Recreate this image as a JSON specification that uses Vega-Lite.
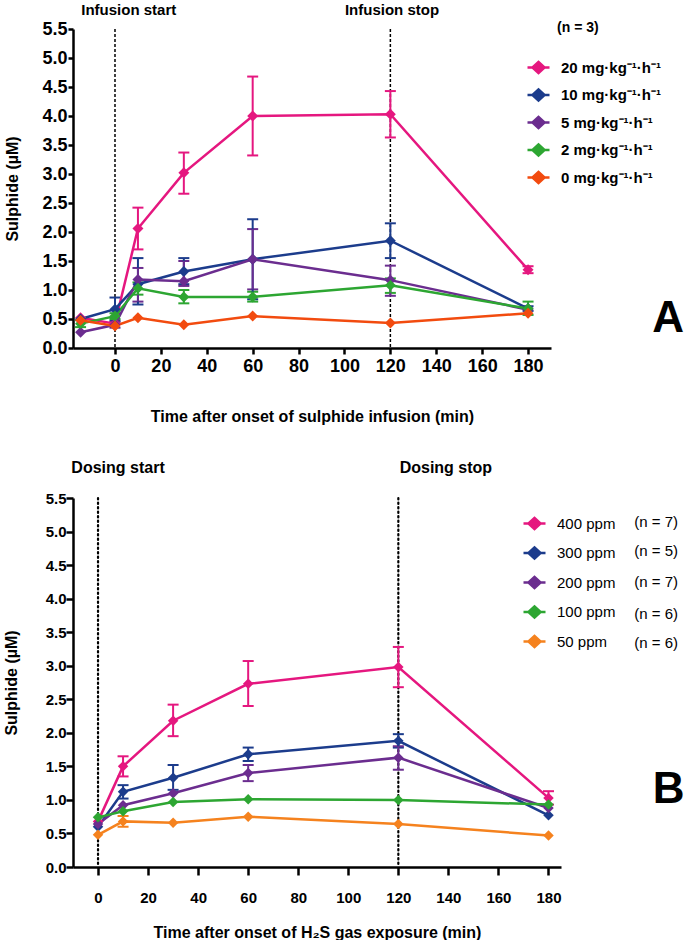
{
  "$schema": "https://vega.github.io/schema/vega-lite/v6.json",
  "padding": {"left": 3, "top": 2, "right": 0, "bottom": 0},
  "spacing": 35,
  "resolve": {"scale": {"color": "independent", "x": "independent", "y": "independent"}, "legend": {"color": "independent"}},
  "config": {
    "font": "Liberation Sans",
    "view": {"stroke": null},
    "axis": {"grid": false, "labelOverlap": false, "domainColor": "black", "tickColor": "black", "labelColor": "black", "titleColor": "black", "labelFont": "Liberation Sans", "titleFont": "Liberation Sans"},
    "legend": {"labelFont": "Liberation Sans", "titleFont": "Liberation Sans", "labelColor": "black", "titleColor": "black", "symbolOpacity": 1}
  },
  "datasets": {
    "a": [
      {"s": "20 mg·kg⁻¹·h⁻¹", "t": -15, "m": 0.52, "lo": null, "hi": null},
      {"s": "20 mg·kg⁻¹·h⁻¹", "t": 0, "m": 0.42, "lo": null, "hi": null},
      {"s": "20 mg·kg⁻¹·h⁻¹", "t": 10, "m": 2.06, "lo": 1.70, "hi": 2.42},
      {"s": "20 mg·kg⁻¹·h⁻¹", "t": 30, "m": 3.02, "lo": 2.66, "hi": 3.37},
      {"s": "20 mg·kg⁻¹·h⁻¹", "t": 60, "m": 4.00, "lo": 3.32, "hi": 4.68},
      {"s": "20 mg·kg⁻¹·h⁻¹", "t": 120, "m": 4.03, "lo": 3.63, "hi": 4.43},
      {"s": "20 mg·kg⁻¹·h⁻¹", "t": 180, "m": 1.35, "lo": 1.29, "hi": 1.41},
      {"s": "10 mg·kg⁻¹·h⁻¹", "t": -15, "m": 0.50, "lo": null, "hi": null},
      {"s": "10 mg·kg⁻¹·h⁻¹", "t": 0, "m": 0.67, "lo": 0.47, "hi": 0.87},
      {"s": "10 mg·kg⁻¹·h⁻¹", "t": 10, "m": 1.10, "lo": 0.75, "hi": 1.55},
      {"s": "10 mg·kg⁻¹·h⁻¹", "t": 30, "m": 1.32, "lo": 1.10, "hi": 1.55},
      {"s": "10 mg·kg⁻¹·h⁻¹", "t": 60, "m": 1.53, "lo": 0.84, "hi": 2.22},
      {"s": "10 mg·kg⁻¹·h⁻¹", "t": 120, "m": 1.85, "lo": 1.55, "hi": 2.15},
      {"s": "10 mg·kg⁻¹·h⁻¹", "t": 180, "m": 0.68, "lo": 0.64, "hi": 0.72},
      {"s": "5 mg·kg⁻¹·h⁻¹", "t": -15, "m": 0.27, "lo": null, "hi": null},
      {"s": "5 mg·kg⁻¹·h⁻¹", "t": 0, "m": 0.40, "lo": 0.35, "hi": 0.45},
      {"s": "5 mg·kg⁻¹·h⁻¹", "t": 10, "m": 1.18, "lo": 0.80, "hi": 1.38},
      {"s": "5 mg·kg⁻¹·h⁻¹", "t": 30, "m": 1.15, "lo": 1.07, "hi": 1.50},
      {"s": "5 mg·kg⁻¹·h⁻¹", "t": 60, "m": 1.53, "lo": 1.01, "hi": 2.05},
      {"s": "5 mg·kg⁻¹·h⁻¹", "t": 120, "m": 1.17, "lo": 0.90, "hi": 1.42},
      {"s": "5 mg·kg⁻¹·h⁻¹", "t": 180, "m": 0.66, "lo": null, "hi": null},
      {"s": "2 mg·kg⁻¹·h⁻¹", "t": -15, "m": 0.42, "lo": 0.36, "hi": 0.48},
      {"s": "2 mg·kg⁻¹·h⁻¹", "t": 0, "m": 0.55, "lo": 0.50, "hi": 0.60},
      {"s": "2 mg·kg⁻¹·h⁻¹", "t": 10, "m": 1.03, "lo": 0.92, "hi": 1.13},
      {"s": "2 mg·kg⁻¹·h⁻¹", "t": 30, "m": 0.88, "lo": 0.77, "hi": 1.00},
      {"s": "2 mg·kg⁻¹·h⁻¹", "t": 60, "m": 0.88, "lo": 0.80, "hi": 0.97},
      {"s": "2 mg·kg⁻¹·h⁻¹", "t": 120, "m": 1.08, "lo": 0.95, "hi": 1.20},
      {"s": "2 mg·kg⁻¹·h⁻¹", "t": 180, "m": 0.68, "lo": 0.57, "hi": 0.80},
      {"s": "0 mg·kg⁻¹·h⁻¹", "t": -15, "m": 0.48, "lo": null, "hi": null},
      {"s": "0 mg·kg⁻¹·h⁻¹", "t": 0, "m": 0.38, "lo": null, "hi": null},
      {"s": "0 mg·kg⁻¹·h⁻¹", "t": 10, "m": 0.52, "lo": null, "hi": null},
      {"s": "0 mg·kg⁻¹·h⁻¹", "t": 30, "m": 0.40, "lo": null, "hi": null},
      {"s": "0 mg·kg⁻¹·h⁻¹", "t": 60, "m": 0.55, "lo": null, "hi": null},
      {"s": "0 mg·kg⁻¹·h⁻¹", "t": 120, "m": 0.43, "lo": null, "hi": null},
      {"s": "0 mg·kg⁻¹·h⁻¹", "t": 180, "m": 0.60, "lo": null, "hi": null}
    ],
    "b": [
      {"s": "400 ppm", "t": 0, "m": 0.68, "lo": null, "hi": null},
      {"s": "400 ppm", "t": 10, "m": 1.50, "lo": 1.35, "hi": 1.65},
      {"s": "400 ppm", "t": 30, "m": 2.18, "lo": 1.95, "hi": 2.42},
      {"s": "400 ppm", "t": 60, "m": 2.73, "lo": 2.40, "hi": 3.07},
      {"s": "400 ppm", "t": 120, "m": 2.98, "lo": 2.68, "hi": 3.28},
      {"s": "400 ppm", "t": 180, "m": 1.03, "lo": 0.93, "hi": 1.13},
      {"s": "300 ppm", "t": 0, "m": 0.60, "lo": null, "hi": null},
      {"s": "300 ppm", "t": 10, "m": 1.12, "lo": 1.02, "hi": 1.22},
      {"s": "300 ppm", "t": 30, "m": 1.33, "lo": 1.15, "hi": 1.52},
      {"s": "300 ppm", "t": 60, "m": 1.68, "lo": 1.58, "hi": 1.78},
      {"s": "300 ppm", "t": 120, "m": 1.88, "lo": 1.78, "hi": 1.98},
      {"s": "300 ppm", "t": 180, "m": 0.77, "lo": null, "hi": null},
      {"s": "200 ppm", "t": 0, "m": 0.64, "lo": null, "hi": null},
      {"s": "200 ppm", "t": 10, "m": 0.92, "lo": null, "hi": null},
      {"s": "200 ppm", "t": 30, "m": 1.10, "lo": null, "hi": null},
      {"s": "200 ppm", "t": 60, "m": 1.40, "lo": 1.28, "hi": 1.52},
      {"s": "200 ppm", "t": 120, "m": 1.63, "lo": 1.45, "hi": 1.80},
      {"s": "200 ppm", "t": 180, "m": 0.88, "lo": null, "hi": null},
      {"s": "100 ppm", "t": 0, "m": 0.74, "lo": null, "hi": null},
      {"s": "100 ppm", "t": 10, "m": 0.83, "lo": null, "hi": null},
      {"s": "100 ppm", "t": 30, "m": 0.97, "lo": null, "hi": null},
      {"s": "100 ppm", "t": 60, "m": 1.01, "lo": null, "hi": null},
      {"s": "100 ppm", "t": 120, "m": 1.00, "lo": null, "hi": null},
      {"s": "100 ppm", "t": 180, "m": 0.93, "lo": null, "hi": null},
      {"s": "50 ppm", "t": 0, "m": 0.48, "lo": null, "hi": null},
      {"s": "50 ppm", "t": 10, "m": 0.68, "lo": 0.60, "hi": 0.76},
      {"s": "50 ppm", "t": 30, "m": 0.66, "lo": null, "hi": null},
      {"s": "50 ppm", "t": 60, "m": 0.75, "lo": null, "hi": null},
      {"s": "50 ppm", "t": 120, "m": 0.64, "lo": null, "hi": null},
      {"s": "50 ppm", "t": 180, "m": 0.47, "lo": null, "hi": null}
    ]
  },
  "vconcat": [
    {
      "width": 478,
      "height": 319,
      "data": {"name": "a"},
      "encoding": {
        "x": {"field": "t", "type": "quantitative", "scale": {"domain": [-18.3, 190], "nice": false},
          "axis": {"values": [0, 20, 40, 60, 80, 100, 120, 140, 160, 180], "title": "Time after onset of sulphide infusion (min)", "domainWidth": 2.5, "tickWidth": 2.5, "tickSize": 6, "labelFontSize": 18, "labelFontWeight": "bold", "labelPadding": 3, "titleFontSize": 16, "titleFontWeight": "bold", "titlePadding": 33}}
      },
      "layer": [
        {
          "data": {"values": [{"t": 0}, {"t": 120}]},
          "mark": {"type": "rule", "strokeDash": [3, 2], "strokeWidth": 1.5, "color": "black"},
          "encoding": {}
        },
        {
          "transform": [{"filter": "datum.lo != null"}],
          "mark": {"type": "errorbar", "ticks": {"size": 11, "opacity": 1}, "rule": {"opacity": 1}, "thickness": 2},
          "encoding": {
            "y": {"field": "lo", "type": "quantitative", "title": "Sulphide (µM)", "scale": {"domain": [0, 5.5], "nice": false}},
            "y2": {"field": "hi"},
            "color": {"field": "s", "type": "nominal",
              "scale": {"domain": ["20 mg·kg⁻¹·h⁻¹", "10 mg·kg⁻¹·h⁻¹", "5 mg·kg⁻¹·h⁻¹", "2 mg·kg⁻¹·h⁻¹", "0 mg·kg⁻¹·h⁻¹"], "range": ["#E5177F", "#1C3C8C", "#6B2D8F", "#2DA632", "#F24B0F"]},
              "legend": {"orient": "none", "legendX": 453, "legendY": 26, "padding": 0, "title": null, "symbolType": "M-1,0L1,0M0,-0.5L0.55,0L0,0.5L-0.55,0Z", "symbolSize": 484, "symbolStrokeWidth": 2.5, "labelFontSize": 15, "labelFontWeight": "bold", "labelOffset": 10, "rowPadding": 4.5, "labelLimit": 300,
                "encode": {"symbols": {"update": {"fill": {"signal": "['#E5177F','#1C3C8C','#6B2D8F','#2DA632','#F24B0F'][datum.index]"}, "stroke": {"signal": "['#E5177F','#1C3C8C','#6B2D8F','#2DA632','#F24B0F'][datum.index]"}, "opacity": {"value": 1}}}}}}
          }
        },
        {
          "mark": {"type": "line", "strokeWidth": 2.5},
          "encoding": {
            "y": {"field": "m", "type": "quantitative", "title": "Sulphide (µM)", "scale": {"domain": [0, 5.5], "nice": false},
              "axis": {"values": [0, 0.5, 1, 1.5, 2, 2.5, 3, 3.5, 4, 4.5, 5, 5.5], "tickCount": 12, "labelOverlap": false, "format": ".1f", "title": "Sulphide (µM)", "domainWidth": 2.5, "tickWidth": 2.5, "tickSize": 5, "labelFontSize": 18, "labelFontWeight": "bold", "labelPadding": 1, "titleFontSize": 16, "titleFontWeight": "bold", "titlePadding": 21}},
            "color": {"field": "s", "type": "nominal",
              "legend": {"orient": "none", "legendX": 453, "legendY": 26, "padding": 0, "title": null, "symbolType": "M-1,0L1,0M0,-0.5L0.55,0L0,0.5L-0.55,0Z", "symbolSize": 484, "symbolStrokeWidth": 2.5, "labelFontSize": 15, "labelFontWeight": "bold", "labelOffset": 10, "rowPadding": 4.5, "labelLimit": 300,
                "encode": {"symbols": {"update": {"fill": {"signal": "['#E5177F','#1C3C8C','#6B2D8F','#2DA632','#F24B0F'][datum.index]"}, "stroke": {"signal": "['#E5177F','#1C3C8C','#6B2D8F','#2DA632','#F24B0F'][datum.index]"}, "opacity": {"value": 1}}}}}}
          }
        },
        {
          "mark": {"type": "point", "shape": "diamond", "filled": true, "size": 120, "opacity": 1},
          "encoding": {
            "y": {"field": "m", "type": "quantitative", "title": "Sulphide (µM)"},
            "color": {"field": "s", "type": "nominal",
              "legend": {"orient": "none", "legendX": 453, "legendY": 26, "padding": 0, "title": null, "symbolType": "M-1,0L1,0M0,-0.5L0.55,0L0,0.5L-0.55,0Z", "symbolSize": 484, "symbolStrokeWidth": 2.5, "labelFontSize": 15, "labelFontWeight": "bold", "labelOffset": 10, "rowPadding": 4.5, "labelLimit": 300,
                "encode": {"symbols": {"update": {"fill": {"signal": "['#E5177F','#1C3C8C','#6B2D8F','#2DA632','#F24B0F'][datum.index]"}, "stroke": {"signal": "['#E5177F','#1C3C8C','#6B2D8F','#2DA632','#F24B0F'][datum.index]"}, "opacity": {"value": 1}}}}}}
          }
        },
        {
          "data": {"values": [{"label": "Infusion start", "t": 6, "y": 5.83}, {"label": "Infusion stop", "t": 120.7, "y": 5.83}]},
          "mark": {"type": "text", "fontSize": 15, "fontWeight": "bold", "baseline": "middle", "align": "center", "color": "black"},
          "encoding": {
            "y": {"field": "y", "type": "quantitative", "title": "Sulphide (µM)"},
            "text": {"field": "label"}
          }
        },
        {
          "data": {"values": [{"label": "(n = 3)", "t": 201.7, "y": 5.52}]},
          "mark": {"type": "text", "fontSize": 14, "fontWeight": "bold", "baseline": "middle", "align": "center", "color": "black"},
          "encoding": {
            "y": {"field": "y", "type": "quantitative", "title": "Sulphide (µM)"},
            "text": {"field": "label"}
          }
        },
        {
          "data": {"values": [{"label": "A", "t": 241, "y": 0.28}]},
          "mark": {"type": "text", "fontSize": 44, "fontWeight": "bold", "baseline": "alphabetic", "align": "center", "color": "black"},
          "encoding": {
            "y": {"field": "y", "type": "quantitative", "title": "Sulphide (µM)"},
            "text": {"field": "label"}
          }
        }
      ]
    },
    {
      "width": 488,
      "height": 369,
      "data": {"name": "b"},
      "encoding": {
        "x": {"field": "t", "type": "quantitative", "scale": {"domain": [-10, 185], "nice": false},
          "axis": {"values": [0, 20, 40, 60, 80, 100, 120, 140, 160, 180], "title": "Time after onset of H₂S gas exposure (min)", "domainWidth": 2.5, "tickWidth": 2.5, "tickSize": 8, "labelFontSize": 15, "labelFontWeight": "bold", "labelPadding": 15, "titleFontSize": 16, "titleFontWeight": "bold", "titlePadding": 19}}
      },
      "layer": [
        {
          "data": {"values": [{"t": 0}, {"t": 120}]},
          "mark": {"type": "rule", "strokeDash": [1.5, 3], "strokeWidth": 2.2, "strokeCap": "round", "color": "black"},
          "encoding": {}
        },
        {
          "transform": [{"filter": "datum.lo != null"}],
          "mark": {"type": "errorbar", "ticks": {"size": 11, "opacity": 1}, "rule": {"opacity": 1}, "thickness": 2},
          "encoding": {
            "y": {"field": "lo", "type": "quantitative", "title": "Sulphide (µM)", "scale": {"domain": [0, 5.5], "nice": false}},
            "y2": {"field": "hi"},
            "color": {"field": "s", "type": "nominal",
              "scale": {"domain": ["400 ppm", "300 ppm", "200 ppm", "100 ppm", "50 ppm"], "range": ["#E5177F", "#1C3C8C", "#6B2D8F", "#2DA632", "#F5821E"]},
              "legend": {"orient": "none", "legendX": 449, "legendY": 13, "padding": 0, "title": null, "symbolType": "M-1,0L1,0M0,-0.5L0.55,0L0,0.5L-0.55,0Z", "symbolSize": 484, "symbolStrokeWidth": 2.5, "labelFontSize": 15, "labelOffset": 10, "rowPadding": 6.5, "labelLimit": 300,
                "encode": {"symbols": {"update": {"fill": {"signal": "['#E5177F','#1C3C8C','#6B2D8F','#2DA632','#F5821E'][datum.index]"}, "stroke": {"signal": "['#E5177F','#1C3C8C','#6B2D8F','#2DA632','#F5821E'][datum.index]"}, "opacity": {"value": 1}}}}}}
          }
        },
        {
          "mark": {"type": "line", "strokeWidth": 2.5},
          "encoding": {
            "y": {"field": "m", "type": "quantitative", "title": "Sulphide (µM)", "scale": {"domain": [0, 5.5], "nice": false},
              "axis": {"values": [0, 0.5, 1, 1.5, 2, 2.5, 3, 3.5, 4, 4.5, 5, 5.5], "tickCount": 12, "labelOverlap": false, "format": ".1f", "title": "Sulphide (µM)", "domainWidth": 2.5, "tickWidth": 2.5, "tickSize": 7, "labelFontSize": 15, "labelFontWeight": "bold", "labelPadding": 0, "titleFontSize": 16, "titleFontWeight": "bold", "titlePadding": 26}},
            "color": {"field": "s", "type": "nominal",
              "legend": {"orient": "none", "legendX": 449, "legendY": 13, "padding": 0, "title": null, "symbolType": "M-1,0L1,0M0,-0.5L0.55,0L0,0.5L-0.55,0Z", "symbolSize": 484, "symbolStrokeWidth": 2.5, "labelFontSize": 15, "labelOffset": 10, "rowPadding": 6.5, "labelLimit": 300,
                "encode": {"symbols": {"update": {"fill": {"signal": "['#E5177F','#1C3C8C','#6B2D8F','#2DA632','#F5821E'][datum.index]"}, "stroke": {"signal": "['#E5177F','#1C3C8C','#6B2D8F','#2DA632','#F5821E'][datum.index]"}, "opacity": {"value": 1}}}}}}
          }
        },
        {
          "mark": {"type": "point", "shape": "diamond", "filled": true, "size": 110, "opacity": 1},
          "encoding": {
            "y": {"field": "m", "type": "quantitative", "title": "Sulphide (µM)"},
            "color": {"field": "s", "type": "nominal",
              "legend": {"orient": "none", "legendX": 449, "legendY": 13, "padding": 0, "title": null, "symbolType": "M-1,0L1,0M0,-0.5L0.55,0L0,0.5L-0.55,0Z", "symbolSize": 484, "symbolStrokeWidth": 2.5, "labelFontSize": 15, "labelOffset": 10, "rowPadding": 6.5, "labelLimit": 300,
                "encode": {"symbols": {"update": {"fill": {"signal": "['#E5177F','#1C3C8C','#6B2D8F','#2DA632','#F5821E'][datum.index]"}, "stroke": {"signal": "['#E5177F','#1C3C8C','#6B2D8F','#2DA632','#F5821E'][datum.index]"}, "opacity": {"value": 1}}}}}}
          }
        },
        {
          "data": {"values": [{"label": "Dosing start", "t": 8, "y": 5.95}, {"label": "Dosing stop", "t": 139, "y": 5.95}]},
          "mark": {"type": "text", "fontSize": 16, "fontWeight": "bold", "baseline": "middle", "align": "center", "color": "black"},
          "encoding": {
            "y": {"field": "y", "type": "quantitative", "title": "Sulphide (µM)"},
            "text": {"field": "label"}
          }
        },
        {
          "data": {"values": [
            {"label": "(n = 7)", "t": 223, "y": 5.14},
            {"label": "(n = 5)", "t": 223, "y": 4.71},
            {"label": "(n = 7)", "t": 223, "y": 4.25},
            {"label": "(n = 6)", "t": 223, "y": 3.77},
            {"label": "(n = 6)", "t": 223, "y": 3.34}
          ]},
          "mark": {"type": "text", "fontSize": 15, "baseline": "middle", "align": "center", "color": "black"},
          "encoding": {
            "y": {"field": "y", "type": "quantitative", "title": "Sulphide (µM)"},
            "text": {"field": "label"}
          }
        },
        {
          "data": {"values": [{"label": "B", "t": 228, "y": 0.95}]},
          "mark": {"type": "text", "fontSize": 44, "fontWeight": "bold", "baseline": "alphabetic", "align": "center", "color": "black"},
          "encoding": {
            "y": {"field": "y", "type": "quantitative", "title": "Sulphide (µM)"},
            "text": {"field": "label"}
          }
        }
      ]
    }
  ]
}
